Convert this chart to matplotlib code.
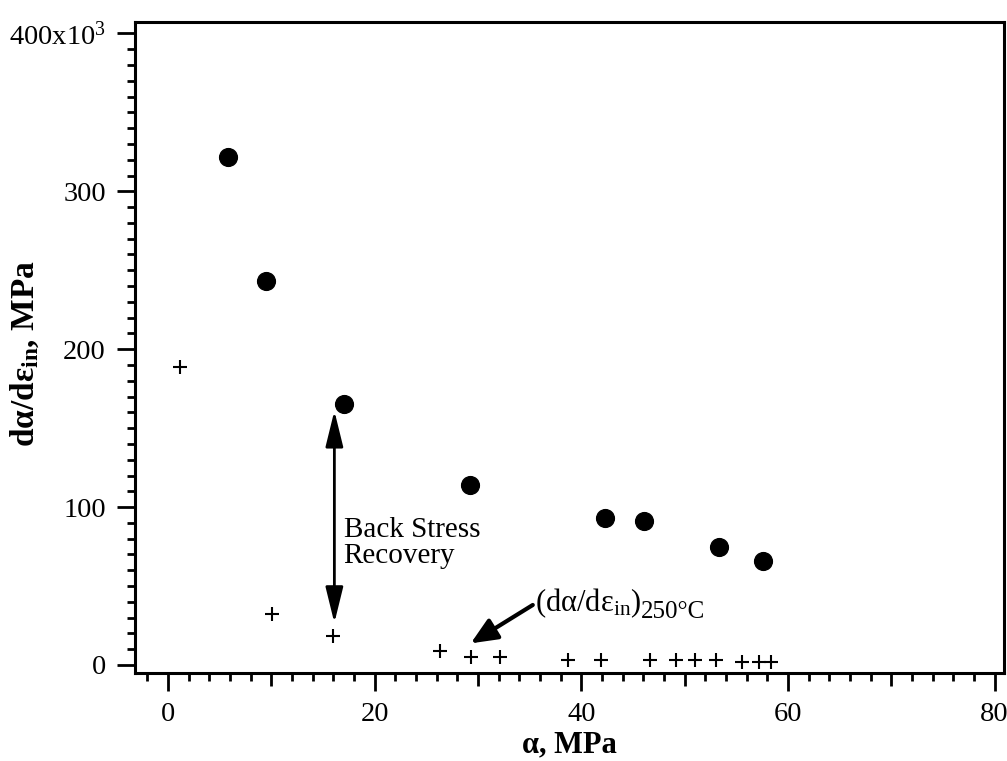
import matplotlib
matplotlib.use("Agg")
import matplotlib.pyplot as plt
from matplotlib.ticker import MultipleLocator, FixedLocator, FixedFormatter
from matplotlib.markers import TICKDOWN

plt.rcParams['font.family'] = ['Liberation Serif', 'DejaVu Serif']
plt.rcParams['mathtext.fontset'] = 'custom'
plt.rcParams['mathtext.rm'] = 'Liberation Serif'
plt.rcParams['mathtext.it'] = 'Liberation Serif'
plt.rcParams['mathtext.bf'] = 'Liberation Serif:bold'

# data (y in units of 10^3 MPa)
circle_x = [5.8, 9.5, 17.0, 29.2, 42.3, 46.1, 53.3, 57.6]
circle_y = [322, 243, 165, 114, 93, 91, 75, 66]
cross_x = [1.2, 10.1, 16.0, 26.3, 29.3, 32.1, 38.7, 41.9, 46.6, 49.2, 51.0, 53.0, 55.5, 57.2, 58.4]
cross_y = [189, 32, 18.5, 9, 5, 5, 3.2, 3.2, 3, 3, 3, 3, 2, 2, 2]
yticks = [0, 100, 200, 300, 400]
ytick_labels = ['0', '100', '200', '300', r'400x10$^{3}$']
xticks = [0, 20, 40, 60, 80]
xmid_ticks = [10, 30, 50, 70]
xminor_ticks = [v for v in range(-2, 81, 2) if v % 10 != 0]

fig = plt.figure(figsize=(10.07, 7.61), dpi=100)
ax = fig.add_axes([0.134, 0.1156, 0.997 - 0.134, 0.971 - 0.1156])

ax.plot(circle_x, circle_y, 'o', color='black', markersize=12.8, zorder=3)
ax.plot(cross_x, cross_y, '+', color='black', markersize=10.5, markeredgewidth=1.5, zorder=3)

ax.set_xlim(-3.2, 80.9)
ax.set_ylim(-5.1, 407.2)

for s in ['top', 'right', 'left', 'bottom']:
    ax.spines[s].set_linewidth(2.2)

ax.xaxis.set_major_locator(FixedLocator(xticks))
ax.xaxis.set_minor_locator(FixedLocator(xminor_ticks))
ax.yaxis.set_major_locator(FixedLocator(yticks))
ax.yaxis.set_major_formatter(FixedFormatter(ytick_labels))
ax.yaxis.set_minor_locator(MultipleLocator(10))
ax.tick_params(which='major', direction='out', length=13, width=2, labelsize=20.5, pad=8)
ax.tick_params(which='minor', direction='out', length=6, width=2)
ax.tick_params(top=False, right=False, which='both')

# medium ticks at odd tens on x
ax.plot(xmid_ticks, [0] * len(xmid_ticks), linestyle='none', marker=TICKDOWN,
        markersize=9, markeredgewidth=2, color='black',
        transform=ax.get_xaxis_transform(), clip_on=False)

ax.set_xlabel('α, MPa', fontsize=22, fontweight='bold', labelpad=2)
ax.set_ylabel(r'$\mathbf{d\alpha/d\varepsilon_{in}}$, MPa', fontsize=24, fontweight='bold')
ax.yaxis.set_label_coords(-0.108, 0.49)

# double arrow
ax.annotate('', xy=(16.1, 161), xytext=(16.1, 26.6),
            arrowprops=dict(arrowstyle='<|-|>,head_length=1.1,head_width=0.27',
                            mutation_scale=20, lw=2, color='black', shrinkA=0, shrinkB=0))
ax.text(17.0, 77, 'Back Stress\nRecovery', fontsize=21, va='center', ha='left', linespacing=1.0)

ax.annotate('', xy=(29.3, 13.7), xytext=(35.3, 38),
            arrowprops=dict(arrowstyle='-|>,head_length=0.8,head_width=0.35',
                            mutation_scale=20, lw=3, color='black', shrinkA=0, shrinkB=0))
main_lbl = ax.text(35.5, 39, r'$(\mathrm{d\alpha/d\varepsilon_{in}})$',
                   fontsize=22, va='center', ha='left')
ax.annotate('250°C', xy=(1, 0), xycoords=main_lbl, xytext=(0, -2),
            textcoords='offset points', fontsize=18, va='bottom', ha='left')

fig.savefig('out.png', dpi=100)
